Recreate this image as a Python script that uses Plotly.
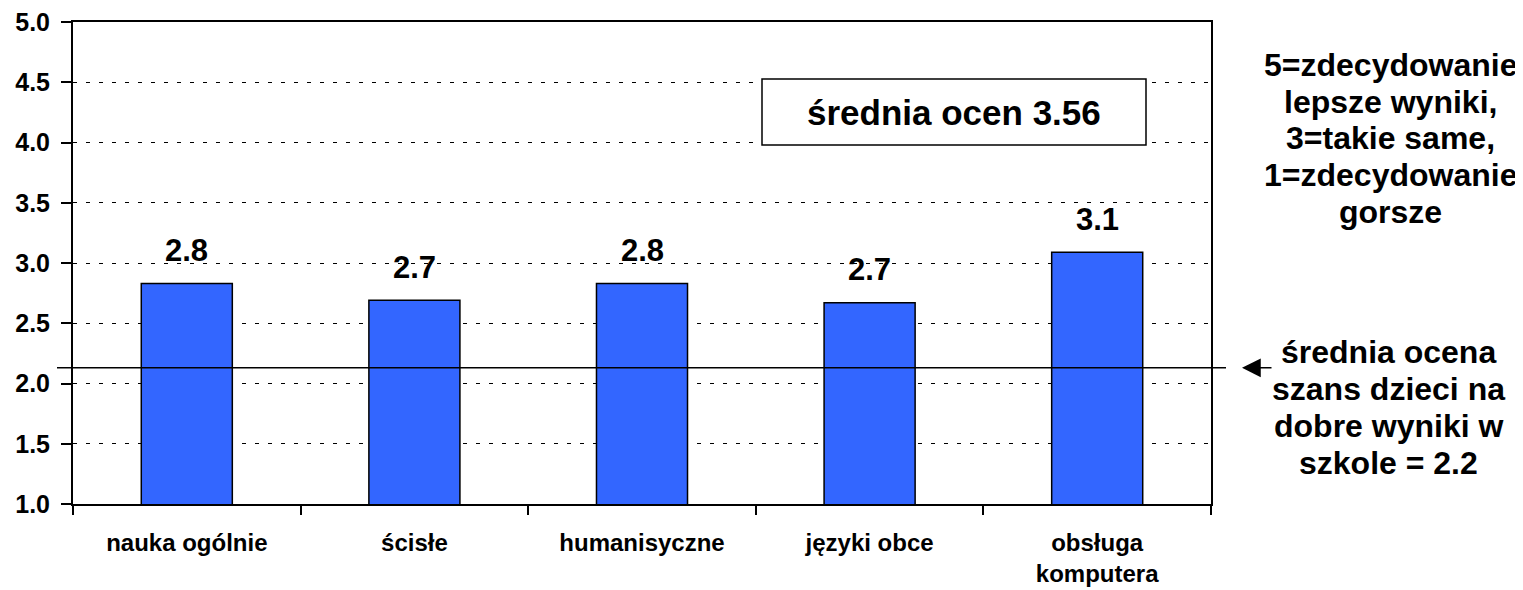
import plotly.graph_objects as go

# ---- data ----
categories = ["nauka ogólnie", "ścisłe", "humanisyczne", "języki obce", "obsługa<br>komputera"]
values = [2.83, 2.69, 2.83, 2.67, 3.09]
ref_value = 2.13
y_ticks = [1.0, 1.5, 2.0, 2.5, 3.0, 3.5, 4.0, 4.5, 5.0]
box_text = "średnia ocen 3.56"
scale_lines = ["5=zdecydowanie", "lepsze wyniki,", "3=takie same,", "1=zdecydowanie", "gorsze"]
ref_lines = ["średnia ocena", "szans dzieci na", "dobre wyniki w", "szkole = 2.2"]

# ---- layout geometry (pixels, in the 1523x590 picture) ----
OFF = 8  # default page body margin
W, H = 1523, 590
L, R, T, B = 73, 1211, 22, 504
FONT = "Liberation Sans, Arial, sans-serif"


def px_x(x):
    return (x - L) / (R - L)


def px_y(y):
    return (B - y) / (B - T)


fig = go.Figure()
fig.add_trace(go.Bar(
    x=categories, y=values, width=0.40,
    marker=dict(color="#3366FF", line=dict(color="black", width=1.5)),
    hoverinfo="skip", showlegend=False,
))

# value labels above bars
for c, v in zip(categories, values):
    fig.add_annotation(x=c, y=v, text=f"{v:.1f}", showarrow=False,
                       yanchor="middle", yshift=33,
                       font=dict(family=FONT, size=31, color="black", weight="bold"))

# reference line
fig.add_shape(type="line", xref="paper", yref="y",
              x0=px_x(57), x1=px_x(1226), y0=ref_value, y1=ref_value,
              line=dict(color="black", width=1.5), layer="above")

# arrow pointing to reference line
fig.add_annotation(xref="paper", yref="y", x=px_x(1242), y=ref_value,
                   text="", showarrow=True, ax=31, ay=0,
                   arrowhead=2, arrowsize=2.5, arrowwidth=1.5, arrowcolor="black", standoff=0)

# box with average
fig.add_shape(type="rect", xref="paper", yref="paper",
              x0=px_x(762), x1=px_x(1146), y0=px_y(145), y1=px_y(79),
              line=dict(color="black", width=1.5), fillcolor="white", layer="above")
fig.add_annotation(xref="paper", yref="paper", x=px_x(954), y=px_y(112),
                   text=box_text, showarrow=False, xanchor="center", yanchor="middle",
                   font=dict(family=FONT, size=35, color="black", weight="bold"))

# scale explanation text
for i, line in enumerate(scale_lines):
    fig.add_annotation(xref="paper", yref="paper", x=px_x(1390), y=px_y(65 + 36.7 * i),
                       text=line, showarrow=False, xanchor="center", yanchor="middle",
                       font=dict(family=FONT, size=32, color="black", weight="bold"))

# reference explanation text
for i, line in enumerate(ref_lines):
    fig.add_annotation(xref="paper", yref="paper", x=px_x(1388), y=px_y(352 + 37 * i),
                       text=line, showarrow=False, xanchor="center", yanchor="middle",
                       font=dict(family=FONT, size=32, color="black", weight="bold"))

fig.update_layout(
    width=W - OFF, height=H - OFF,
    margin=dict(l=L - OFF, r=W - R, t=T - OFF, b=H - B, autoexpand=False),
    paper_bgcolor="white", plot_bgcolor="white",
    bargap=0.6,
)
fig.update_xaxes(
    type="category", tickson="boundaries", ticks="outside", ticklen=9, tickwidth=1.5,
    tickcolor="black", showgrid=False, showline=True, linecolor="black", linewidth=2,
    mirror=True, ticklabelstandoff=16, automargin=False, ticklabeloverflow="allow",
    tickfont=dict(family=FONT, size=24, color="black", weight="bold"),
)
fig.update_yaxes(
    range=[1, 5], tickvals=y_ticks, ticktext=[f"{t:.1f}" for t in y_ticks],
    ticks="outside", ticklen=10, tickwidth=1.5, tickcolor="black",
    showgrid=True, gridcolor="black", gridwidth=1, griddash="4px,9px",
    showline=True, linecolor="black", linewidth=2, mirror=True, zeroline=False,
    ticklabelstandoff=6, automargin=False, ticklabeloverflow="allow",
    tickfont=dict(family=FONT, size=25, color="black", weight="bold"),
)

fig.write_html("out.html")
